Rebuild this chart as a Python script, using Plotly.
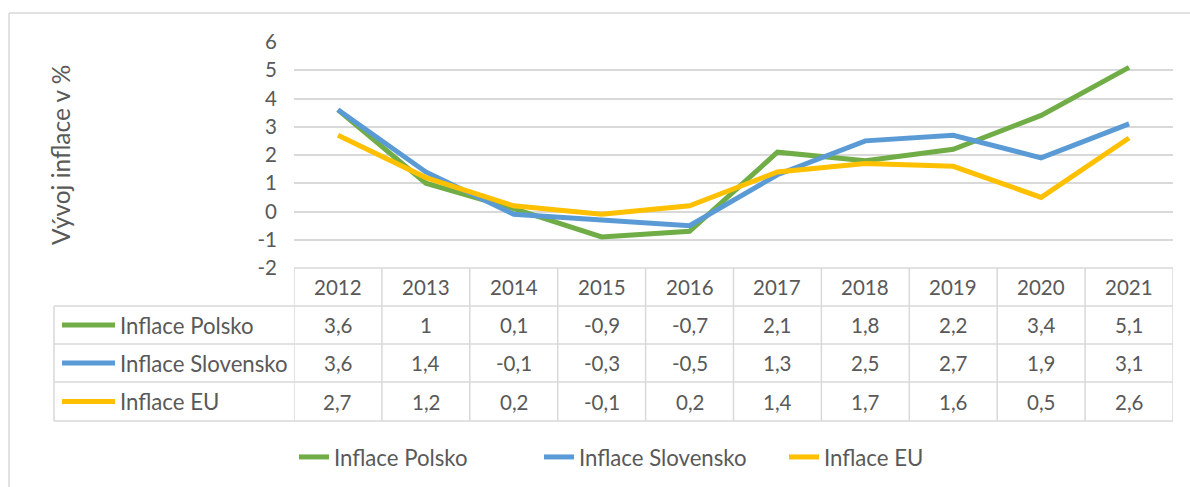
import plotly.graph_objects as go

# ---- data ----
years = [2012, 2013, 2014, 2015, 2016, 2017, 2018, 2019, 2020, 2021]
inflace_polsko = [3.6, 1, 0.1, -0.9, -0.7, 2.1, 1.8, 2.2, 3.4, 5.1]
inflace_slovensko = [3.6, 1.4, -0.1, -0.3, -0.5, 1.3, 2.5, 2.7, 1.9, 3.1]
inflace_eu = [2.7, 1.2, 0.2, -0.1, 0.2, 1.4, 1.7, 1.6, 0.5, 2.6]
series_names = ["Inflace Polsko", "Inflace Slovensko", "Inflace EU"]
y_ticks = [-2, -1, 0, 1, 2, 3, 4, 5, 6]
y_title = "Vývoj inflace v %"

series_values = [inflace_polsko, inflace_slovensko, inflace_eu]
colors = ["#70AD47", "#5B9BD5", "#FFC000"]

W, H = 1190, 487
FONT = "Lato"
TXT = "#595959"
GRID = "#D9D9D9"
FS = 20.5
FS_LBL = 22.2


def px(x):
    return x / W


def py(y):
    return 1 - y / H


def fmt(v):
    return f"{v:g}".replace(".", ",")


fig = go.Figure()
for name, vals, col in zip(series_names, series_values, colors):
    fig.add_trace(go.Scatter(
        x=years, y=vals, name=name, mode="lines",
        line=dict(color=col, width=5),
        hoverinfo="x+y+name",
    ))

# plot area geometry (pixels)
plot_left, plot_right = 294, 1173
plot_top, plot_bottom = 42, 268
row_edges = [268, 306, 344, 382, 421]
label_left = 54

shapes = []
annotations = []

# outer chart border (top and left)
shapes.append(dict(type="line", xref="paper", yref="paper",
                   x0=px(9), x1=1.0, y0=py(13), y1=py(13),
                   line=dict(color=GRID, width=1.5)))
shapes.append(dict(type="line", xref="paper", yref="paper",
                   x0=px(9), x1=px(9), y0=py(13), y1=0,
                   line=dict(color=GRID, width=1.5)))

# table horizontal lines
shapes.append(dict(type="line", xref="paper", yref="paper",
                   x0=px(plot_left), x1=px(plot_right),
                   y0=py(row_edges[0]), y1=py(row_edges[0]),
                   line=dict(color=GRID, width=1.5)))
for ye in row_edges[1:]:
    shapes.append(dict(type="line", xref="paper", yref="paper",
                       x0=px(label_left), x1=px(plot_right),
                       y0=py(ye), y1=py(ye),
                       line=dict(color=GRID, width=1.5)))
# table vertical lines (category boundaries on x axis)
for i in range(len(years) + 1):
    xb = years[0] - 0.5 + i
    shapes.append(dict(type="line", xref="x", yref="paper",
                       x0=xb, x1=xb, y0=py(row_edges[0]), y1=py(row_edges[-1]),
                       line=dict(color=GRID, width=1.5)))
shapes.append(dict(type="line", xref="paper", yref="paper",
                   x0=px(label_left), x1=px(label_left),
                   y0=py(row_edges[1]), y1=py(row_edges[-1]),
                   line=dict(color=GRID, width=1.5)))

# header row
hdr_c = (row_edges[0] + row_edges[1]) / 2
for yr in years:
    annotations.append(dict(xref="x", yref="paper", x=yr, y=py(hdr_c),
                            text=str(yr), showarrow=False,
                            font=dict(family=FONT, size=FS, color=TXT),
                            xanchor="center", yanchor="middle"))

# data rows
for r, (name, vals, col) in enumerate(zip(series_names, series_values, colors)):
    yc = (row_edges[r + 1] + row_edges[r + 2]) / 2
    shapes.append(dict(type="line", xref="paper", yref="paper",
                       x0=px(62), x1=px(115), y0=py(yc), y1=py(yc),
                       line=dict(color=col, width=5)))
    annotations.append(dict(xref="paper", yref="paper", x=px(118), y=py(yc),
                            text=name, showarrow=False,
                            font=dict(family=FONT, size=FS_LBL, color=TXT),
                            xanchor="left", yanchor="middle"))
    for yr, v in zip(years, vals):
        annotations.append(dict(xref="x", yref="paper", x=yr, y=py(yc),
                                text=fmt(v), showarrow=False,
                                font=dict(family=FONT, size=FS, color=TXT),
                                xanchor="center", yanchor="middle"))

# y axis title
annotations.append(dict(xref="paper", yref="paper", x=px(60), y=py(155),
                        text=y_title, showarrow=False, textangle=-90,
                        font=dict(family=FONT, size=24.4, color=TXT),
                        xanchor="center", yanchor="middle"))

fig.update_layout(
    width=W, height=H,
    margin=dict(l=0, r=0, t=0, b=0, pad=0, autoexpand=False),
    paper_bgcolor="white", plot_bgcolor="white",
    font=dict(family=FONT, color=TXT),
    xaxis=dict(domain=[px(plot_left), px(plot_right)],
               range=[years[0] - 0.5, years[-1] + 0.5],
               showticklabels=False, showgrid=False, zeroline=False,
               showline=False, ticks="", automargin=False),
    yaxis=dict(domain=[py(plot_bottom), py(plot_top)],
               range=[y_ticks[0], y_ticks[-1]],
               tickvals=y_ticks, ticktext=[str(t) for t in y_ticks],
               showgrid=True, gridcolor=GRID, gridwidth=1.5,
               zeroline=False, showline=False, ticks="",
               ticklabelstandoff=16, automargin=False,
               tickfont=dict(family=FONT, size=FS, color=TXT)),
    showlegend=True,
    legend=dict(orientation="h", x=px(294), xanchor="left",
                y=py(457), yanchor="middle",
                font=dict(family=FONT, size=FS_LBL, color=TXT),
                itemwidth=30, tracegroupgap=0,
                entrywidth=200, entrywidthmode="pixels"),
    shapes=shapes,
    annotations=annotations,
)

fig.write_html(
    "out.html",
    config={"displayModeBar": False},
    post_script="document.body.style.margin='0';document.body.style.padding='0';document.body.style.overflow='hidden';",
)
